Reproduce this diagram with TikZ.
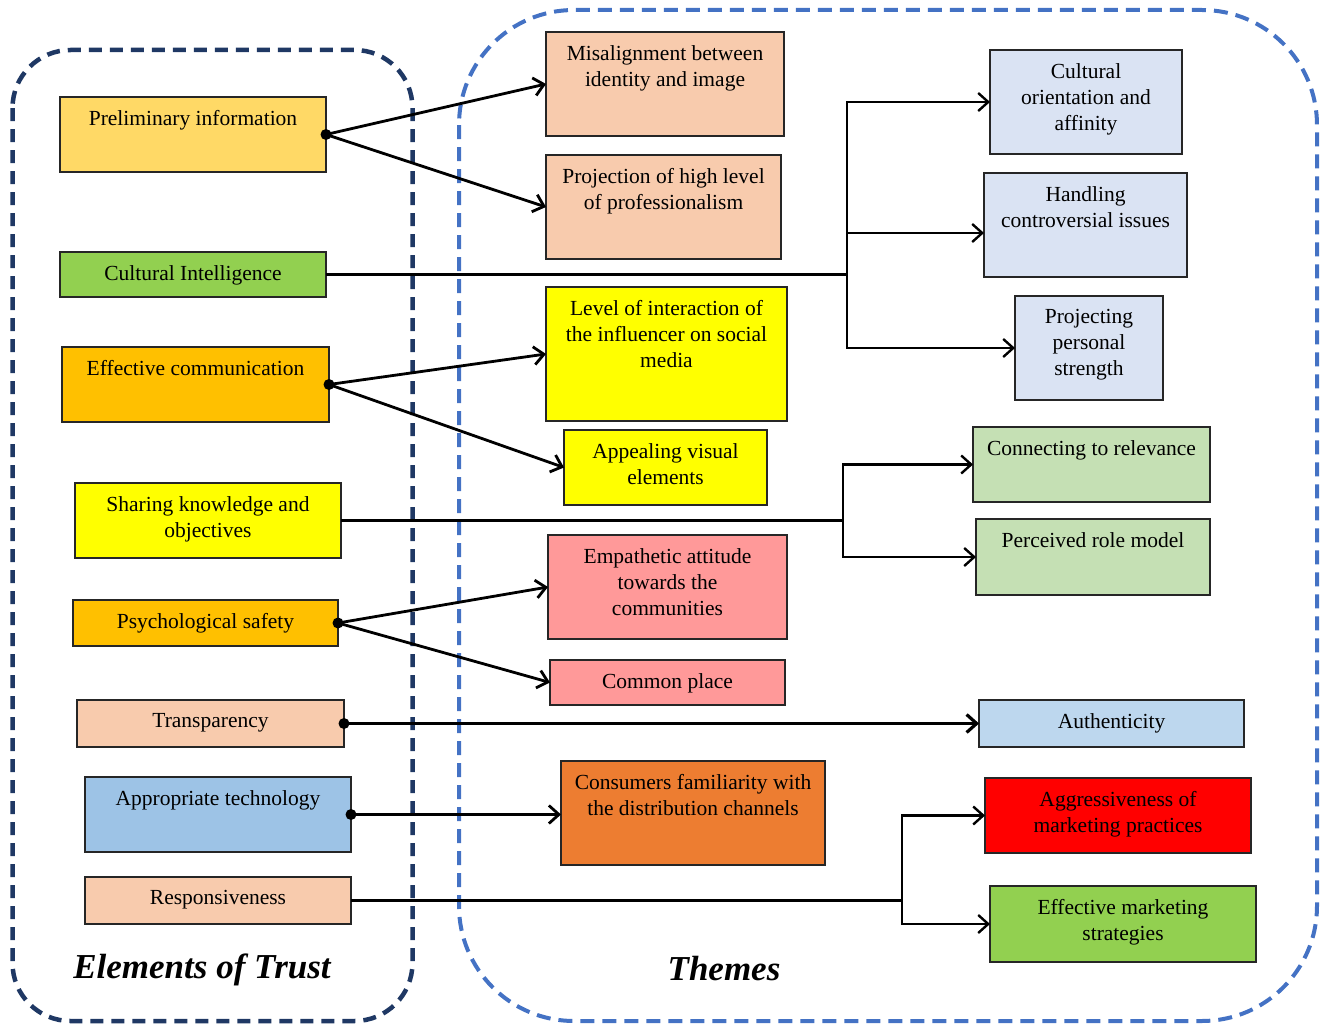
\documentclass[tikz,border=0pt]{standalone}
\usepackage{fontspec}
\setmainfont{Liberation Serif}
\usetikzlibrary{arrows.meta,positioning}
\definecolor{navyframe}{HTML}{1F3864}
\definecolor{blueframe}{HTML}{4472C4}
\definecolor{prelimgold}{HTML}{FFD966}
\definecolor{leafgreen}{HTML}{92D050}
\definecolor{ambergold}{HTML}{FFC000}
\definecolor{brightyellow}{HTML}{FFFF00}
\definecolor{peach}{HTML}{F8CBAD}
\definecolor{skyblue}{HTML}{9DC3E6}
\definecolor{salmonpink}{HTML}{FF9999}
\definecolor{burntorange}{HTML}{ED7D31}
\definecolor{paleblue}{HTML}{DAE3F3}
\definecolor{palegreen}{HTML}{C5E0B4}
\definecolor{iceblue}{HTML}{BDD7EE}
\definecolor{alarmred}{HTML}{FF0000}
\tikzset{
  trustbox/.style={rectangle, draw=black!85, line width=1.4pt, anchor=north west, inner sep=0pt, outer sep=0pt},
  boxtext/.style={anchor=north, align=center, inner sep=0pt, yshift=-13pt},
  arrow/.style={-{Straight Barb[length=10pt,width=18pt]}, line width=2.8pt},
  branch/.style={-{Straight Barb[length=10pt,width=18pt]}, line width=2.4pt},
  trunk/.style={line width=2.4pt},
  trustframe/.style={draw=navyframe, line width=4.5pt, dash pattern=on 13pt off 8pt, rounded corners=58pt},
  themeframe/.style={draw=blueframe, line width=4pt, dash pattern=on 14pt off 8pt, rounded corners=115pt},
  heading/.style={font=\fontsize{35}{40}\selectfont\bfseries\itshape, anchor=base, inner sep=0pt}
}
\begin{document}
\begin{tikzpicture}[x=1pt, y=-1pt, font=\fontsize{21.5}{26}\selectfont]
  \useasboundingbox (0,0) rectangle (1320,1025);
  \draw[trustframe] (12.5,50) rectangle (412.5,1021);
  \draw[themeframe] (459,10) rectangle (1317,1021);

  \node[trustbox, fill=prelimgold, minimum width=266pt, minimum height=75pt, label={[boxtext]north:Preliminary information}] (prelim) at (60,97) {};
  \node[trustbox, fill=leafgreen, minimum width=266pt, minimum height=45pt, label={[boxtext]north:Cultural Intelligence}] (culint) at (60,252) {};
  \node[trustbox, fill=ambergold, minimum width=267pt, minimum height=75pt, label={[boxtext]north:Effective communication}] (effcomm) at (62,347) {};
  \node[trustbox, fill=brightyellow, minimum width=266pt, minimum height=75pt, label={[boxtext]north:Sharing knowledge and\\objectives}] (sharing) at (75,483) {};
  \node[trustbox, fill=ambergold, minimum width=265pt, minimum height=46pt, label={[boxtext]north:Psychological safety}] (psych) at (73,600) {};
  \node[trustbox, fill=peach, minimum width=267pt, minimum height=47pt, label={[boxtext]north:Transparency}] (transp) at (77,700) {};
  \node[trustbox, fill=skyblue, minimum width=266pt, minimum height=75pt, label={[boxtext]north:Appropriate technology}] (apptech) at (85,777) {};
  \node[trustbox, fill=peach, minimum width=266pt, minimum height=47pt, label={[boxtext]north:Responsiveness}] (respons) at (85,877) {};

  \node[trustbox, fill=peach, minimum width=238pt, minimum height=104pt, label={[boxtext]north:Misalignment between\\identity and image}] (misalign) at (546,32) {};
  \node[trustbox, fill=peach, minimum width=235pt, minimum height=104pt, label={[boxtext]north:Projection of high level\\of professionalism}] (projection) at (546,155) {};
  \node[trustbox, fill=brightyellow, minimum width=241pt, minimum height=134pt, label={[boxtext]north:Level of interaction of\\the influencer on social\\media}] (levelint) at (546,287) {};
  \node[trustbox, fill=brightyellow, minimum width=203pt, minimum height=75pt, label={[boxtext]north:Appealing visual\\elements}] (appealing) at (564,430) {};
  \node[trustbox, fill=salmonpink, minimum width=239pt, minimum height=104pt, label={[boxtext]north:Empathetic attitude\\towards the\\communities}] (empathetic) at (548,535) {};
  \node[trustbox, fill=salmonpink, minimum width=235pt, minimum height=45pt, label={[boxtext]north:Common place}] (commonpl) at (550,660) {};
  \node[trustbox, fill=burntorange, minimum width=264pt, minimum height=104pt, label={[boxtext]north:Consumers familiarity with\\the distribution channels}] (consumers) at (561,761) {};

  \node[trustbox, fill=paleblue, minimum width=192pt, minimum height=104pt, label={[boxtext]north:Cultural\\orientation and\\affinity}] (culori) at (990,50) {};
  \node[trustbox, fill=paleblue, minimum width=203pt, minimum height=104pt, label={[boxtext]north:Handling\\controversial issues}] (handling) at (984,173) {};
  \node[trustbox, fill=paleblue, minimum width=148pt, minimum height=104pt, label={[boxtext]north:Projecting\\personal\\strength}] (projpers) at (1015,296) {};
  \node[trustbox, fill=palegreen, minimum width=237pt, minimum height=75pt, label={[boxtext]north:Connecting to relevance}] (connecting) at (973,427) {};
  \node[trustbox, fill=palegreen, minimum width=234pt, minimum height=76pt, label={[boxtext]north:Perceived role model}] (rolemodel) at (976,519) {};
  \node[trustbox, fill=iceblue, minimum width=265pt, minimum height=47pt, label={[boxtext]north:Authenticity}] (authentic) at (979,700) {};
  \node[trustbox, fill=alarmred, minimum width=266pt, minimum height=75pt, label={[boxtext]north:Aggressiveness of\\marketing practices}] (aggressive) at (985,778) {};
  \node[trustbox, fill=leafgreen, minimum width=266pt, minimum height=76pt, label={[boxtext]north:Effective marketing\\strategies}] (effmark) at (990,886) {};

  \draw[arrow] (prelim.east) -- (misalign.west);
  \draw[arrow] (prelim.east) -- (projection.west);
  \draw[trunk] (culint.east) -- ++(521,0) coordinate (cisplit);
  \draw[branch] (cisplit) |- (culori.west);
  \draw[branch] (cisplit) |- ([yshift=-8pt]handling.west);
  \draw[branch] (cisplit) |- (projpers.west);
  \draw[arrow] (effcomm.east) -- (levelint.west);
  \draw[arrow] (effcomm.east) -- (appealing.west);
  \draw[trunk] (sharing.east) -- ++(502,0) coordinate (sksplit);
  \draw[branch] (sksplit) |- (connecting.west);
  \draw[branch] (sksplit) |- (rolemodel.west);
  \draw[arrow] (psych.east) -- (empathetic.west);
  \draw[arrow] (psych.east) -- (commonpl.west);
  \draw[arrow, line width=3.2pt] (transp.east) -- (authentic.west);
  \draw[arrow] (apptech.east) -- (apptech.east -| consumers.west);
  \draw[trunk] (respons.east) -- ++(551,0) coordinate (rsplit);
  \draw[branch] (rsplit) |- (aggressive.west);
  \draw[branch] (rsplit) |- (effmark.west);
  \foreach \src in {prelim,effcomm,psych,transp,apptech}
    \fill (\src.east) circle (5.5pt);

  \node[heading] (trusttitle) at (202,978) {Elements of Trust};
  \node[heading] (themestitle) at (724,980) {Themes};
\end{tikzpicture}
\end{document}
